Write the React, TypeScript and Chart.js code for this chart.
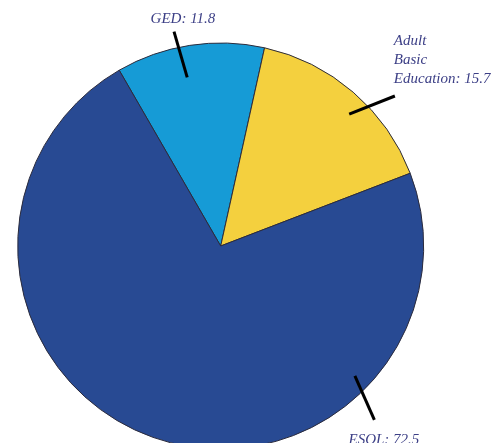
import React, { useEffect, useRef } from "react";
import { Chart, registerables } from "chart.js";

Chart.register(...registerables);

const categories = ["GED", "Adult Basic Education", "ESOL"];
const values = [11.8, 15.7, 72.5];
const labelLines = [["GED: 11.8"], ["Adult", "Basic", "Education: 15.7"], ["ESOL: 72.5"]];
const colors = ["#169bd6", "#f4d03e", "#284a93"];

// leader geometry, in units of the pie radius, relative to its centre
const leaders = [
  { from: [-0.165, -0.831], to: [-0.23, -1.056], text: [-0.186, -1.1], align: "center" },
  { from: [0.633, -0.65], to: [0.858, -0.739], text: [0.853, -0.99], align: "left" },
  { from: [0.661, 0.64], to: [0.757, 0.857], text: [0.804, 0.975], align: "center" },
];

const leaderPlugin = {
  id: "leaders",
  afterDraw(chart: any) {
    const meta = chart.getDatasetMeta(0);
    const arc = meta.data[0];
    if (!arc) return;
    const cx = arc.x;
    const cy = arc.y;
    const R = arc.outerRadius;
    const ctx = chart.ctx;
    ctx.save();
    leaders.forEach((l, i) => {
      ctx.beginPath();
      ctx.strokeStyle = "#000";
      ctx.lineWidth = 3;
      ctx.moveTo(cx + l.from[0] * R, cy + l.from[1] * R);
      ctx.lineTo(cx + l.to[0] * R, cy + l.to[1] * R);
      ctx.stroke();
      ctx.fillStyle = "#3c3f86";
      ctx.font = "italic 15px 'Liberation Serif', serif";
      ctx.textAlign = l.align as CanvasTextAlign;
      ctx.textBaseline = "alphabetic";
      labelLines[i].forEach((t, j) => {
        ctx.fillText(t, cx + l.text[0] * R, cy + l.text[1] * R + j * 19);
      });
    });
    ctx.restore();
  },
};

export default function App() {
  const ref = useRef<HTMLCanvasElement>(null);
  useEffect(() => {
    if (!ref.current) return;
    const chart = new Chart(ref.current, {
      type: "pie",
      data: {
        labels: categories,
        datasets: [
          {
            data: values,
            backgroundColor: colors,
            borderColor: "#2b2b3c",
            borderWidth: 1,
          },
        ],
      },
      options: {
        animation: false,
        responsive: true,
        maintainAspectRatio: false,
        rotation: -30.0,
        radius: 203,
        layout: { padding: { left: 0, right: 62.6, top: 0, bottom: 8 } },
        plugins: { legend: { display: false }, tooltip: { enabled: false } },
      },
      plugins: [leaderPlugin],
    });
    return () => chart.destroy();
  }, []);
  return (
    <div style={{ position: "absolute", left: 0, top: 0, width: 504, height: 443, overflow: "hidden", background: "#fff" }}>
      <div style={{ position: "relative", width: 504, height: 500 }}>
        <canvas ref={ref} />
      </div>
    </div>
  );
}
